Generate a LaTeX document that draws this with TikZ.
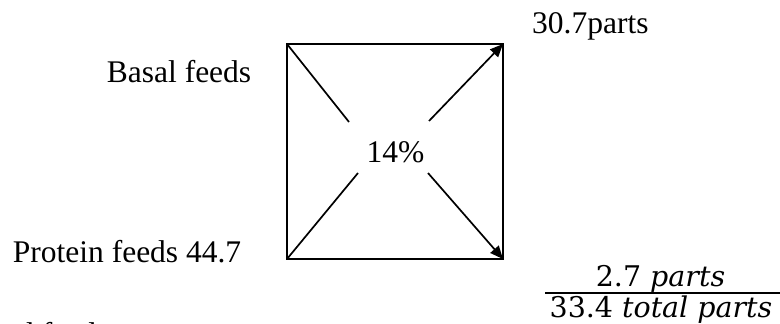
\documentclass[tikz,border=0pt]{standalone}
\usepackage{fontspec}
\setmainfont{Liberation Serif}
\newfontfamily\fracfont{DejaVu Serif}
\usetikzlibrary{arrows.meta}
\begin{document}
\begin{tikzpicture}[x=1pt,y=-1pt,
  lbl/.style={inner sep=0pt, font=\fontsize{31.5}{38}\selectfont},
  fraclbl/.style={inner sep=0pt, font=\fracfont\fontsize{28.5}{34}\selectfont},
  frame/.style={line width=2pt},
  diag/.style={line width=1.7pt},
  arr/.style={diag, -{Triangle[length=13pt,width=11pt]}}]
\useasboundingbox (0,0) rectangle (780,324);
\begin{scope}
\clip (0,0) rectangle (780,324);
% square
\coordinate (tl) at (287,44);
\coordinate (tr) at (503,44);
\coordinate (br) at (503,259);
\coordinate (bl) at (287,259);
\draw[frame] (tl) -- (tr) -- (br) -- (bl) -- cycle;
% inner ends of diagonals
\coordinate (itl) at (349,122);
\coordinate (itr) at (429,121);
\coordinate (ibl) at (358,173);
\coordinate (ibr) at (428,173);
\draw[diag] (tl) -- (itl);
\draw[arr] (itr) -- (tr);
\draw[diag] (bl) -- (ibl);
\draw[arr] (ibr) -- (br);
% labels
\node[lbl, anchor=base] (pct) at (395.5,162.7) {14\%};
\node[lbl, anchor=base west] (basal) at (106.7,82.7) {Basal feeds};
\node[lbl, anchor=base west] (parts) at (532,33.3) {30.7parts};
\node[lbl, anchor=base west] (protein) at (12.7,262.3) {Protein feeds 44.7};
\node[lbl, anchor=base west] (cut) at (18,344) {d feeds};
% fraction
\node[fraclbl, anchor=base] (num) at (660.5,286.5) {2.7 \textit{parts}};
\node[fraclbl, anchor=base] (den) at (661,317) {33.4 \textit{total parts}};
\coordinate (barL) at (545,293);
\coordinate (barR) at (780,293);
\draw[line width=1.5pt] (barL) -- (barR);
\end{scope}
\end{tikzpicture}
\end{document}
